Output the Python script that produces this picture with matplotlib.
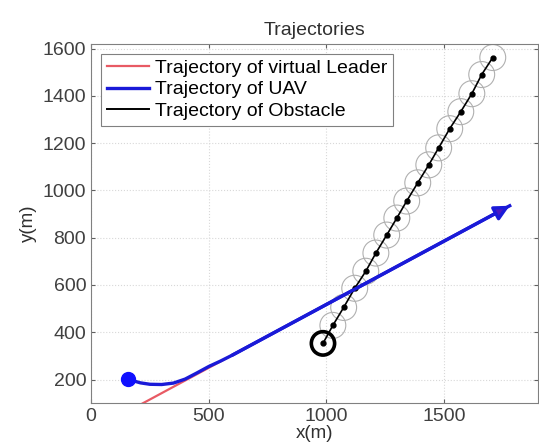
import matplotlib
matplotlib.use('Agg')
from matplotlib import pyplot as plt
from matplotlib.patches import Circle
from matplotlib.lines import Line2D

plt.rcParams['font.family'] = ['Liberation Sans', 'DejaVu Sans']

# virtual leader (straight line, ends with arrow)
leader_x = [217, 1780]
leader_y = [98, 935]

# UAV path
uav_x = [157, 185, 210, 250, 300, 350, 400, 450, 500, 550, 600, 1780]
uav_y = [204, 193, 186, 180, 179, 185, 202, 228, 255, 278, 303, 935]

# obstacle positions
obs_x = [986, 1028, 1074, 1121, 1168, 1211, 1257, 1300, 1342, 1389, 1436, 1478, 1525, 1572, 1619, 1661, 1708]
obs_y = [353, 429, 505, 586, 658, 735, 811, 883, 955, 1032, 1108, 1180, 1261, 1333, 1409, 1490, 1562]
obs_r = 55

x_ticks = [0, 500, 1000, 1500]
y_ticks = [200, 400, 600, 800, 1000, 1200, 1400, 1600]

fig = plt.figure(figsize=(5.39, 4.47), dpi=100)
ax = fig.add_axes([0.169, 0.098, 0.829, 0.804])

# safety circles around obstacle
for i in range(1, len(obs_x)):
    ax.add_patch(Circle((obs_x[i], obs_y[i]), obs_r, fill=False, ec='#b0b0b0', lw=0.8, zorder=2))
ax.add_patch(Circle((obs_x[0], obs_y[0]), obs_r * 0.9, fill=False, ec='black', lw=2.6, zorder=5))

ax.plot(leader_x, leader_y, color='#e85a64', lw=1.6, zorder=3)
ax.plot(uav_x, uav_y, color='#1a1ad8', lw=2.4, zorder=4)
ax.plot(obs_x, obs_y, color='black', lw=1.2, marker='o', ms=3.5, zorder=4)

# start point and arrow head
ax.plot(uav_x[0], uav_y[0], 'o', color='#1010ff', ms=10, zorder=6)
ax.annotate('', xy=(uav_x[-1], uav_y[-1]), xytext=(uav_x[-2], uav_y[-2]),
            arrowprops=dict(arrowstyle='-|>', ec='#1a1ad8', fc='#4a18c0', lw=2.4,
                            mutation_scale=22, shrinkA=0, shrinkB=0),
            zorder=6)

ax.set_xlim(0, 1900)
ax.set_ylim(100, 1620)
ax.set_xticks(x_ticks)
ax.set_yticks(y_ticks)
ax.tick_params(direction='in', length=3, labelsize=14, colors='#606060',
               labelcolor='#404040', top=True, right=True)
for s in ax.spines.values():
    s.set_color('#808080')
ax.grid(True, color='#d8d8d8', ls=':', lw=0.8)
ax.set_axisbelow(True)

ax.set_title('Trajectories', fontsize=14, color='#303030', pad=6)
ax.set_xlabel('x(m)', fontsize=13.5, color='#303030', labelpad=0)
ax.set_ylabel('y(m)', fontsize=13.5, color='#303030', labelpad=4)

handles = [Line2D([], [], color='#e85a64', lw=1.6),
           Line2D([], [], color='#1a1ad8', lw=2.4),
           Line2D([], [], color='black', lw=1.4)]
labels = ['Trajectory of virtual Leader', 'Trajectory of UAV', 'Trajectory of Obstacle']
leg = ax.legend(handles, labels, loc='upper left', fontsize=14, fancybox=False, framealpha=1,
                edgecolor='#808080', handlelength=2.2, handletextpad=0.3,
                borderpad=0.3, labelspacing=0.2)
leg.get_frame().set_linewidth(0.8)

plt.savefig('out.png', dpi=100)
